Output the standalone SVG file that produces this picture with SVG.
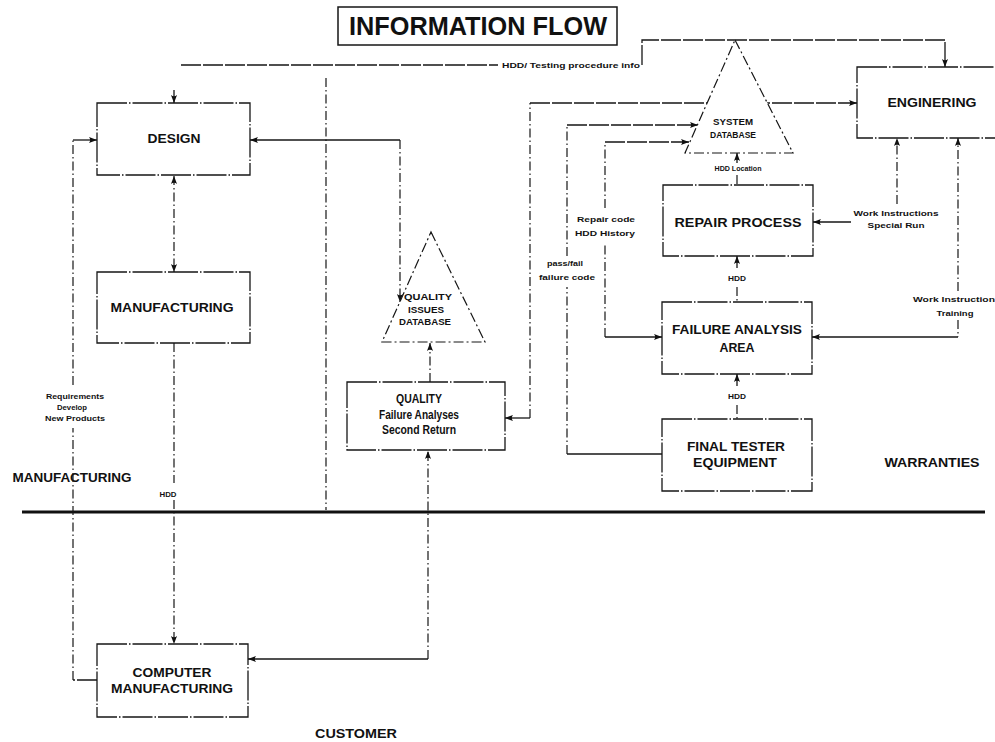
<svg xmlns="http://www.w3.org/2000/svg" width="995" height="742" viewBox="0 0 995 742">
  <defs>
    <style>
      .bx { fill: #fff; stroke: #161616; stroke-width: 1.3; stroke-dasharray: 30 2 1.5 2; }
      .db { fill: #fff; stroke: #161616; stroke-width: 1.2; stroke-dasharray: 10 3 2 3; }
      .h { fill: none; stroke: #161616; stroke-width: 1.3; stroke-dasharray: 20 2; }
      .s { fill: none; stroke: #161616; stroke-width: 1.3; }
      .v { fill: none; stroke: #161616; stroke-width: 1.2; stroke-dasharray: 9 3 1.5 3; }
      .ah { marker-end: url(#arr); }
      .as { marker-start: url(#arr); }
      text { font-family: "Liberation Sans", Arial, sans-serif; fill: #111; text-anchor: middle; }
      .t { font-size: 13px; font-weight: bold; }
      .r { font-size: 12px; font-weight: bold; }
      .l { font-size: 7.5px; font-weight: bold; }
      .d { font-size: 8.5px; font-weight: bold; }
    </style>
    <marker id="arr" viewBox="0 0 10 10" refX="10" refY="5" markerWidth="8" markerHeight="8" markerUnits="userSpaceOnUse" orient="auto-start-reverse">
      <path d="M0,1.2 Q3,5 0,8.8 L10,5 Z" fill="#111"/>
    </marker>
  </defs>

  <rect width="995" height="742" fill="#fff"/>

  <!-- title -->
  <g id="title">
    <rect x="338" y="7" width="279" height="38" fill="#fff" stroke="#161616" stroke-width="1.5"/>
    <text x="478" y="35" font-size="25" font-weight="bold" textLength="258" lengthAdjust="spacingAndGlyphs">INFORMATION FLOW</text>
  </g>

  <!-- region divider and region labels -->
  <g id="regions">
    <path class="v" d="M326,78 V510"/>
    <path d="M22,512 H985" stroke="#111" stroke-width="3" fill="none"/>
    <text class="r" x="72" y="482" textLength="119" lengthAdjust="spacingAndGlyphs">MANUFACTURING</text>
    <text class="r" x="932" y="467" textLength="95" lengthAdjust="spacingAndGlyphs">WARRANTIES</text>
    <text class="r" x="356" y="738" font-size="11" textLength="82" lengthAdjust="spacingAndGlyphs">CUSTOMER</text>
  </g>

  <!-- connectors -->
  <g id="connectors">
    <!-- engineering to design: testing procedure info -->
    <path class="s ah" d="M174,90 V103"/>
    <path class="h" d="M181,65 H498"/>
    <text class="l" x="571" y="68" textLength="138" lengthAdjust="spacingAndGlyphs">HDD/ Testing procedure info</text>
    <path class="h ah" d="M642,65 V40 H945 V67"/>

    <!-- requirements loop: computer manufacturing to design -->
    <path class="h" d="M97,680 H73"/>
    <path class="v" d="M73,680 V428"/>
    <path class="v" d="M73,385 V140"/>
    <path class="s ah" d="M73,140 H97"/>
    <text class="l" x="75" y="399" textLength="58" lengthAdjust="spacingAndGlyphs">Requirements</text>
    <text class="l" x="72" y="410" textLength="30" lengthAdjust="spacingAndGlyphs">Develop</text>
    <text class="l" x="75" y="421" textLength="60" lengthAdjust="spacingAndGlyphs">New Products</text>

    <!-- design <-> manufacturing -->
    <path class="v as ah" d="M174,176 V272"/>

    <!-- manufacturing -> computer manufacturing -->
    <path class="v" d="M174,343 V483"/>
    <path class="v ah" d="M174,500 V644"/>
    <text class="l" x="168" y="497" textLength="17" lengthAdjust="spacingAndGlyphs">HDD</text>

    <!-- design <-> quality issues database -->
    <path class="s as" d="M250,140 H400"/>
    <path class="v ah" d="M400,140 V302"/>

    <!-- quality -> quality issues database -->
    <path class="v ah" d="M430,382 V343"/>

    <!-- computer manufacturing <-> quality -->
    <path class="s as" d="M248,659 H428"/>
    <path class="v ah" d="M428,659 V451"/>

    <!-- quality <-> engineering -->
    <path class="s as" d="M505,418 H530"/>
    <path class="v" d="M530,418 V103"/>
    <path class="h ah" d="M530,103 H857"/>

    <!-- final tester -> system database -->
    <path class="s" d="M662,454 H567"/>
    <path class="v" d="M567,454 V287"/>
    <path class="v" d="M567,256 V125"/>
    <path class="h ah" d="M567,125 H698"/>
    <text class="l" x="565" y="266" textLength="36" lengthAdjust="spacingAndGlyphs">pass/fail</text>
    <text class="l" x="567" y="280" textLength="56" lengthAdjust="spacingAndGlyphs">failure code</text>

    <!-- failure analysis <-> system database -->
    <path class="s as" d="M662,337 H605"/>
    <path class="v" d="M605,337 V243"/>
    <path class="v" d="M605,208 V142"/>
    <path class="h ah" d="M605,142 H689"/>
    <text class="l" x="606" y="222" textLength="58" lengthAdjust="spacingAndGlyphs">Repair code</text>
    <text class="l" x="605" y="236" textLength="60" lengthAdjust="spacingAndGlyphs">HDD History</text>

    <!-- repair process -> system database -->
    <path class="s ah" d="M737,163 V153"/>
    <text class="l" x="738" y="171" textLength="47" lengthAdjust="spacingAndGlyphs">HDD Location</text>
    <path class="v" d="M737,175 V185"/>

    <!-- failure analysis -> repair process -->
    <path class="s ah" d="M737,268 V256"/>
    <text class="l" x="737" y="281" textLength="18" lengthAdjust="spacingAndGlyphs">HDD</text>
    <path class="v" d="M737,287 V302"/>

    <!-- final tester -> failure analysis -->
    <path class="s ah" d="M737,386 V374"/>
    <text class="l" x="737" y="399" textLength="18" lengthAdjust="spacingAndGlyphs">HDD</text>
    <path class="v" d="M737,405 V419"/>

    <!-- engineering <-> repair process -->
    <path class="v ah" d="M897,204 V138"/>
    <text class="l" x="896" y="216" textLength="85" lengthAdjust="spacingAndGlyphs">Work Instructions</text>
    <text class="l" x="896" y="228" textLength="57" lengthAdjust="spacingAndGlyphs">Special Run</text>
    <path class="s ah" d="M851,222 H813"/>

    <!-- engineering <-> failure analysis -->
    <path class="v ah" d="M958,291 V138"/>
    <text class="l" x="954" y="302" textLength="82" lengthAdjust="spacingAndGlyphs">Work Instruction</text>
    <text class="l" x="955" y="316" textLength="37" lengthAdjust="spacingAndGlyphs">Training</text>
    <path class="v" d="M958,320 V337"/>
    <path class="s ah" d="M958,337 H812"/>
  </g>

  <!-- nodes -->
  <g id="design">
    <rect class="bx" x="97" y="103" width="153" height="72"/>
    <text class="t" x="174" y="143" textLength="53" lengthAdjust="spacingAndGlyphs">DESIGN</text>
  </g>
  <g id="manufacturing">
    <rect class="bx" x="97" y="272" width="153" height="71"/>
    <text class="t" x="172" y="312" textLength="123" lengthAdjust="spacingAndGlyphs">MANUFACTURING</text>
  </g>
  <g id="computer-manufacturing">
    <rect class="bx" x="97" y="644" width="151" height="73"/>
    <text class="t" x="172" y="677" textLength="79" lengthAdjust="spacingAndGlyphs">COMPUTER</text>
    <text class="t" x="172" y="693" textLength="122" lengthAdjust="spacingAndGlyphs">MANUFACTURING</text>
  </g>
  <g id="quality-issues-database">
    <polygon class="db" points="431,232 485,342 382,342"/>
    <text class="d" x="428" y="300" textLength="48" lengthAdjust="spacingAndGlyphs">QUALITY</text>
    <text class="d" x="426" y="313" textLength="36" lengthAdjust="spacingAndGlyphs">ISSUES</text>
    <text class="d" x="425" y="325" textLength="52" lengthAdjust="spacingAndGlyphs">DATABASE</text>
  </g>
  <g id="quality">
    <rect class="bx" x="347" y="382" width="158" height="68"/>
    <text class="r" x="419" y="403" textLength="46" lengthAdjust="spacingAndGlyphs">QUALITY</text>
    <text class="r" x="419" y="419" textLength="80" lengthAdjust="spacingAndGlyphs">Failure Analyses</text>
    <text class="r" x="419" y="434" textLength="74" lengthAdjust="spacingAndGlyphs">Second Return</text>
  </g>
  <g id="system-database">
    <polygon class="db" points="735,40 793,153 685,153"/>
    <text class="d" x="733" y="125" textLength="40" lengthAdjust="spacingAndGlyphs">SYSTEM</text>
    <text class="d" x="733" y="138" textLength="46" lengthAdjust="spacingAndGlyphs">DATABASE</text>
  </g>
  <g id="engineering">
    <rect class="bx" x="857" y="67" width="150" height="71"/>
    <text class="t" x="932" y="107" textLength="89" lengthAdjust="spacingAndGlyphs">ENGINERING</text>
  </g>
  <g id="repair-process">
    <rect class="bx" x="663" y="185" width="150" height="71"/>
    <text class="t" x="738" y="227" textLength="127" lengthAdjust="spacingAndGlyphs">REPAIR PROCESS</text>
  </g>
  <g id="failure-analysis">
    <rect class="bx" x="662" y="302" width="150" height="72"/>
    <text class="t" x="737" y="334" textLength="130" lengthAdjust="spacingAndGlyphs">FAILURE ANALYSIS</text>
    <text class="t" x="737" y="352" textLength="35" lengthAdjust="spacingAndGlyphs">AREA</text>
  </g>
  <g id="final-tester">
    <rect class="bx" x="662" y="419" width="150" height="72"/>
    <text class="t" x="736" y="451" textLength="98" lengthAdjust="spacingAndGlyphs">FINAL TESTER</text>
    <text class="t" x="735" y="467" textLength="84" lengthAdjust="spacingAndGlyphs">EQUIPMENT</text>
  </g>
</svg>
